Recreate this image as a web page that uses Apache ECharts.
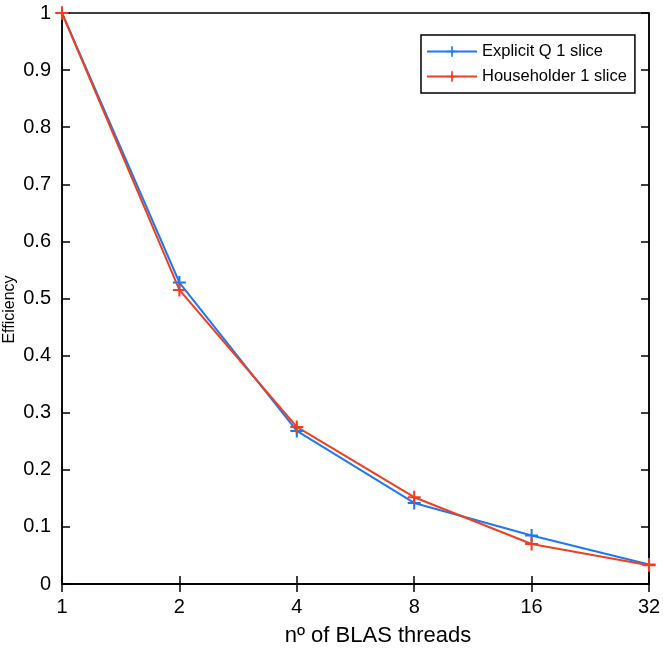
<!DOCTYPE html>
<html>
<head>
<meta charset="utf-8">
<script src="https://cdn.jsdelivr.net/npm/echarts@6/dist/echarts.min.js"></script>
<style>
  html, body { margin: 0; padding: 0; background: #fff; }
  #chart { width: 663px; height: 650px; }
</style>
</head>
<body>
<div id="chart"></div>
<script>
  // threads (log2 spaced, shown as categories)
  var threads = ['1', '2', '4', '8', '16', '32'];
  var explicitQ = [1, 0.528, 0.268, 0.142, 0.085, 0.034];
  var householder = [1, 0.515, 0.275, 0.152, 0.070, 0.033];

  var plus = 'path://M0,4.2h10v1.6h-10zM4.2,0h1.6v10h-1.6z';
  var font = 'Liberation Sans, Arial, Helvetica, sans-serif';

  var chart = echarts.init(document.getElementById('chart'));

  function mkSeries(name, data, color) {
    return {
      name: name,
      type: 'line',
      data: data,
      symbol: plus,
      symbolSize: 13,
      showAllSymbol: true,
      lineStyle: { color: color, width: 2 },
      itemStyle: { color: color },
      animation: false
    };
  }

  var option = {
    backgroundColor: '#fff',
    grid: { left: 62, right: 14, top: 13, bottom: 66, show: true, borderColor: '#000', borderWidth: 1.5,
      containLabel: false, outerBoundsMode: 'none' },
    legend: {
      orient: 'vertical',
      left: 421, top: 35,
      padding: [8, 8, 8, 5],
      itemGap: 8,
      itemWidth: 50, itemHeight: 13,
      borderColor: '#000', borderWidth: 1.5,
      backgroundColor: '#fff',
      textStyle: { fontFamily: font, fontSize: 16.5, color: '#000' },
      data: ['Explicit Q 1 slice', 'Householder 1 slice']
    },
    xAxis: [{
      type: 'category',
      data: threads,
      boundaryGap: false,
      name: 'nº of BLAS threads',
      nameLocation: 'middle',
      nameGap: 41,
      nameMoveOverlap: false,
      nameTextStyle: { fontFamily: font, fontSize: 22, color: '#000', padding: [0, 0, 0, 45] },
      axisLine: { lineStyle: { color: '#000', width: 1.5 } },
      axisTick: { inside: true, length: 8, alignWithLabel: true, lineStyle: { color: '#000', width: 1.5 } },
      axisLabel: { fontFamily: font, fontSize: 20, color: '#000', margin: 13 },
      splitLine: { show: false }
    }, {
      type: 'category',
      data: threads,
      boundaryGap: false,
      position: 'top',
      axisLine: { lineStyle: { color: '#000', width: 1.5 } },
      axisTick: { inside: true, length: 8, lineStyle: { color: '#000', width: 1.5 } },
      axisLabel: { show: false },
      splitLine: { show: false }
    }],
    yAxis: [{
      type: 'value',
      min: 0, max: 1, interval: 0.1,
      name: 'Efficiency',
      nameLocation: 'middle',
      nameGap: 44,
      nameMoveOverlap: false,
      nameTextStyle: { fontFamily: font, fontSize: 16, color: '#000', padding: [0, 22, 0, 0] },
      axisLine: { show: true, lineStyle: { color: '#000', width: 1.5 } },
      axisTick: { show: true, inside: true, length: 8, lineStyle: { color: '#000', width: 1.5 } },
      axisLabel: { fontFamily: font, fontSize: 20, color: '#000', margin: 11,
        formatter: function (v) { return String(Math.round(v * 10) / 10); } },
      splitLine: { show: false }
    }, {
      type: 'value',
      min: 0, max: 1, interval: 0.1,
      position: 'right',
      axisLine: { show: true, lineStyle: { color: '#000', width: 1.5 } },
      axisTick: { show: true, inside: true, length: 8, lineStyle: { color: '#000', width: 1.5 } },
      axisLabel: { show: false },
      splitLine: { show: false }
    }],
    series: [
      mkSeries('Explicit Q 1 slice', explicitQ, '#1f78f0'),
      mkSeries('Householder 1 slice', householder, '#ee4020')
    ]
  };

  chart.setOption(option);
</script>
</body>
</html>
